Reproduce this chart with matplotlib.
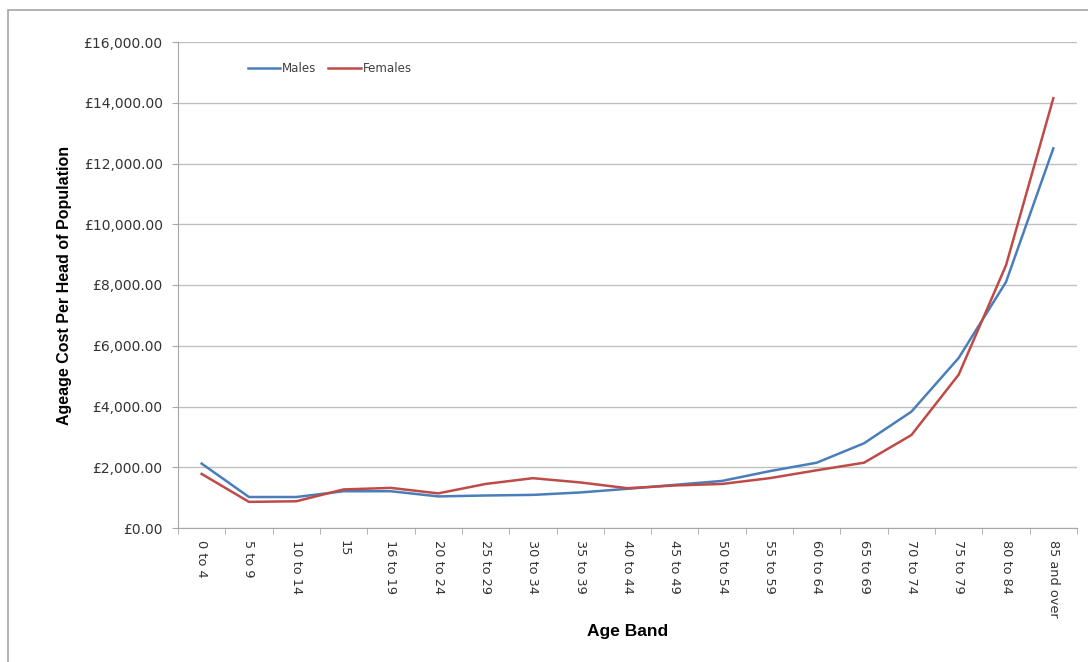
import matplotlib.pyplot as plt
from matplotlib.patches import Rectangle
from matplotlib.ticker import FuncFormatter, FixedLocator
import numpy as np

age_bands = ["0 to 4", "5 to 9", "10 to 14", "15", "16 to 19", "20 to 24",
             "25 to 29", "30 to 34", "35 to 39", "40 to 44", "45 to 49",
             "50 to 54", "55 to 59", "60 to 64", "65 to 69", "70 to 74",
             "75 to 79", "80 to 84", "85 and over"]
males = [2120, 1020, 1020, 1210, 1210, 1040, 1070, 1090, 1170, 1290, 1420,
         1550, 1870, 2150, 2790, 3830, 5600, 8100, 12500]
females = [1780, 860, 880, 1270, 1320, 1140, 1450, 1640, 1500, 1310, 1400,
           1450, 1640, 1900, 2150, 3060, 5050, 8650, 14150]

plt.rcParams['font.family'] = ['DejaVu Sans']

fig = plt.figure(figsize=(10.88, 6.62), dpi=100)
# chart frame
fig.patches.append(Rectangle((8 / 1088, -0.01), 1.02, 1 - 10 / 662 + 0.01,
                             transform=fig.transFigure, fill=False,
                             edgecolor='#a6a6a6', linewidth=1.2))

ax = fig.add_axes([178 / 1088, 1 - 528 / 662, 899 / 1088, 486 / 662])
x = np.arange(len(age_bands))
ax.plot(x, males, color='#4a7ebb', linewidth=1.8, label='Males')
ax.plot(x, females, color='#be4b48', linewidth=1.8, label='Females')

ax.set_xlim(-0.5, len(age_bands) - 0.5)
ax.set_ylim(0, 16000)
ax.set_yticks(np.arange(0, 16001, 2000))
ax.yaxis.set_major_formatter(FuncFormatter(lambda v, p: '£{:,.2f}'.format(v)))
ax.set_xticks(x)
ax.set_xticklabels(age_bands, rotation=-90, fontsize=9.3, color='#333333')
ax.xaxis.set_minor_locator(FixedLocator(np.arange(-0.5, len(age_bands), 1)))
ax.tick_params(axis='x', which='major', length=0, pad=9)
ax.tick_params(axis='x', which='minor', length=4, color='#a6a6a6')
ax.tick_params(axis='y', length=4, color='#a6a6a6', labelsize=10,
               labelcolor='#333333', pad=7)

ax.grid(axis='y', color='#c0c0c0', linewidth=1)
ax.set_axisbelow(True)
for side in ['top', 'right']:
    ax.spines[side].set_visible(False)
for side in ['left', 'bottom']:
    ax.spines[side].set_color('#a6a6a6')

ax.set_ylabel('Ageage Cost Per Head of Population', fontsize=11.5,
              fontweight='bold', family='Liberation Sans', labelpad=8)
ax.set_xlabel('Age Band', fontsize=12.5, fontweight='bold',
              family='Liberation Sans', labelpad=4)

ax.legend(loc='center left', bbox_to_anchor=(0.078, 0.946), ncol=2,
          frameon=False, fontsize=8.6, handlelength=2.7, handletextpad=0.15,
          columnspacing=1.0, borderpad=0, borderaxespad=0, labelcolor='#404040')

fig.savefig('out.png', dpi=100)
